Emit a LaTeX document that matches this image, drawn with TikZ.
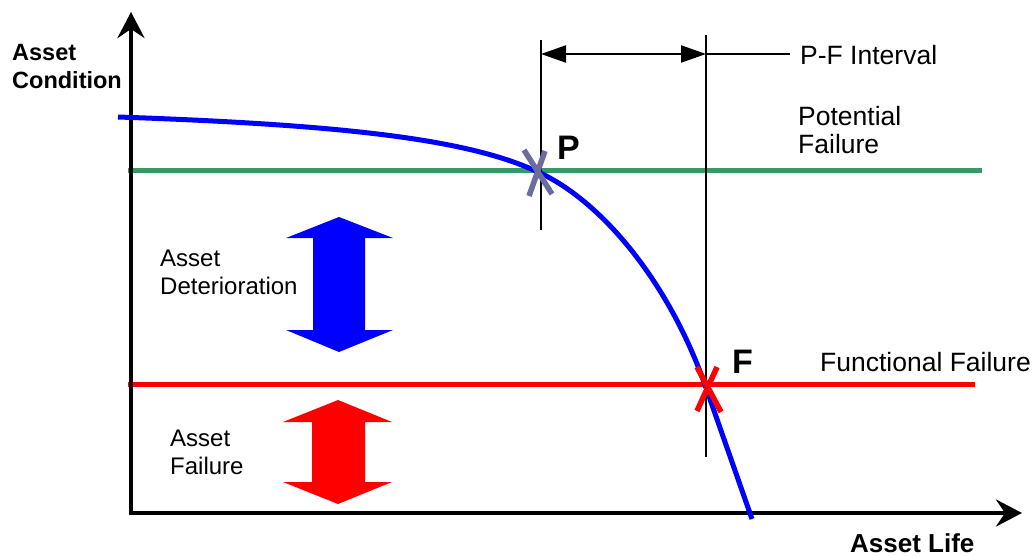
\documentclass[tikz,border=0pt]{standalone}
\usepackage{fontspec}
\setmainfont{Liberation Sans}
\usetikzlibrary{arrows.meta}
\definecolor{pfgreen}{RGB}{56,152,104}
\definecolor{pmarkcol}{RGB}{108,108,160}
\begin{document}
\begin{tikzpicture}[x=1pt,y=-1pt,
  axisline/.style={line width=4pt,-{Stealth[length=26pt,width=27pt,inset=9pt]}},
  guide/.style={line width=2.2pt},
  level/.style={line width=5pt},
  xmarker/.style={line width=5.5pt},
  lbl/.style={font=\fontsize{24}{28}\selectfont,inner sep=0pt,anchor=west,align=left},
  rlbl/.style={font=\fontsize{26.5}{28}\selectfont,inner sep=0pt,anchor=west,align=left},
  blbl/.style={font=\bfseries\fontsize{23.5}{28}\selectfont,inner sep=0pt,anchor=west,align=left},
  pflbl/.style={font=\bfseries\fontsize{34}{36}\selectfont,inner sep=0pt,anchor=west}
]
\useasboundingbox (0,0) rectangle (1032,556);

% coordinates
\coordinate (O) at (131,515);
\coordinate (Ox) at (129,513);
\coordinate (ytop) at (131,12);
\coordinate (xend) at (1022,513);
\coordinate (C0) at (118,117);
\coordinate (P) at (538,172);
\coordinate (F) at (705,385);
\coordinate (C1) at (752,519);
\coordinate (g0) at (128,171);
\coordinate (g1) at (982,171);
\coordinate (r0) at (128,384);
\coordinate (r1) at (975,384);
\coordinate (vp0) at (541,40);
\coordinate (vp1) at (541,230);
\coordinate (vf0) at (706,35);
\coordinate (vf1) at (706,457);
\coordinate (ap) at (541,54);
\coordinate (af) at (706,54);
\coordinate (aend) at (790,54);

% level lines
\draw[level,pfgreen] (g0) -- (g1);
\draw[level,red] (r0) -- (r1);

% axes
\draw[axisline] (O) -- (ytop);
\draw[axisline] (Ox) -- (xend);

% condition curve
\draw[blue,line width=5pt] (C0) .. controls (350,125) and (470,140) .. (P)
  .. controls (600,200) and (668,280) .. (F) -- (C1);

% guide lines
\draw[guide] (vp0) -- (vp1);
\draw[guide] (vf0) -- (vf1);
\draw[guide,{Triangle[length=25pt,width=17pt]}-{Triangle[length=25pt,width=17pt]}] (ap) -- (af);
\draw[guide] (af) -- (aend);

% markers
\draw[xmarker,pmarkcol] (524,150) -- (552,194) (545,151) -- (529,196);
\draw[xmarker,red] (697,367) -- (721,412) (717,367) -- (697,411);

% double arrows
\fill[blue] (339,217) -- (393,238) -- (365,238) -- (365,330) -- (393,330) -- (339,352)
  -- (286,330) -- (313,330) -- (313,238) -- (286,238) -- cycle;
\fill[red] (338,400) -- (392,422) -- (365,422) -- (365,482) -- (392,482) -- (338,504)
  -- (283,482) -- (312,482) -- (312,422) -- (283,422) -- cycle;

% labels
\node[blbl] (ac) at (12,67) {Asset\\Condition};
\node[blbl,font=\bfseries\fontsize{26}{28}\selectfont] (al) at (850,543) {Asset Life};
\node[pflbl] (pl) at (557,148) {P};
\node[pflbl] (fl) at (732,362) {F};
\node[rlbl] (pfi) at (800,55) {P-F Interval};
\node[rlbl] (pot) at (798,130) {Potential\\Failure};
\node[rlbl] (ff) at (820,362) {Functional Failure};
\node[lbl] (ad) at (160,272) {Asset\\Deterioration};
\node[lbl] (af2) at (170,452) {Asset\\Failure};
\end{tikzpicture}
\end{document}
